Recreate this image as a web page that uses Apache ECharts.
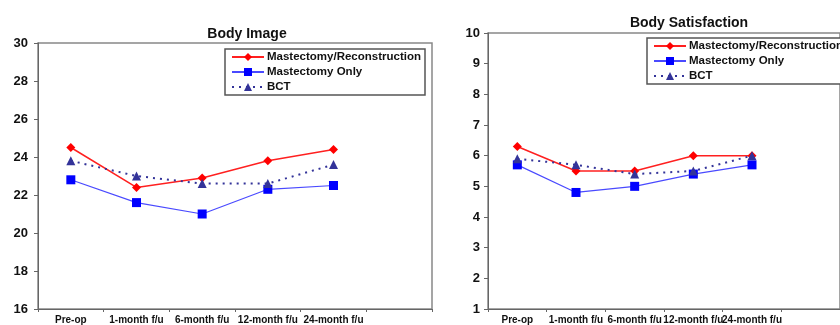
<!DOCTYPE html>
<html><head><meta charset="utf-8">
<script src="https://cdn.jsdelivr.net/npm/echarts@6/dist/echarts.min.js"></script>
<style>html,body{margin:0;padding:0;background:#fff}#c{width:840px;height:325px}</style>
</head><body><div id="c"></div>
<script>
const categories = ['Pre-op', '1-month f/u', '6-month f/u', '12-month f/u', '24-month f/u', ''];
const seriesNames = ['Mastectomy/Reconstruction', 'Mastectomy Only', 'BCT'];
const imageRecon = [24.5, 22.4, 22.9, 23.8, 24.4];
const imageMastOnly = [22.8, 21.6, 21.0, 22.3, 22.5];
const imageBCT = [23.8, 23.0, 22.6, 22.6, 23.6];
const satRecon = [6.3, 5.5, 5.5, 6.0, 6.0];
const satMastOnly = [5.7, 4.8, 5.0, 5.4, 5.7];
const satBCT = [5.9, 5.7, 5.4, 5.5, 6.0];
const titles = ['Body Image', 'Body Satisfaction'];

const FONT = '"Liberation Sans", Arial, sans-serif';
const styles = [
  {color: '#ff0000', lineColor: '#ff2020', symbol: 'diamond', size: 9, width: 1.5, type: 'solid'},
  {color: '#0000ff', lineColor: '#4a4aff', symbol: 'rect', size: 9, width: 1.2, type: 'solid'},
  {color: '#333399', lineColor: '#333399', symbol: 'triangle', size: 9, width: 2, type: [2, 5]}
];
function mk(name, data, idx, s) {
  return {
    name: name, type: 'line', data: data, xAxisIndex: idx, yAxisIndex: idx,
    symbol: s.symbol, symbolSize: s.size,
    itemStyle: {color: s.color},
    lineStyle: {color: s.lineColor, width: s.width, type: s.type},
    emphasis: {disabled: true}, animation: false
  };
}
function xAx(idx) {
  return {type: 'category', gridIndex: idx, data: categories, boundaryGap: true,
    axisLine: {lineStyle: {color: '#666', width: 1}},
    axisTick: {show: true, length: 3, lineStyle: {color: '#666'}},
    axisLabel: {interval: 0, margin: 6, color: '#111', fontFamily: FONT, fontWeight: 'bold', fontSize: 10}};
}
function yAx(idx, min, max, interval, margin) {
  return {type: 'value', gridIndex: idx, min: min, max: max, interval: interval,
    axisLine: {show: true, lineStyle: {color: '#666', width: 1}},
    axisTick: {show: true, length: 4, lineStyle: {color: '#666'}},
    splitLine: {show: false},
    axisLabel: {margin: margin, color: '#111', fontFamily: FONT, fontWeight: 'bold', fontSize: 13}};
}
function lg(left, top, padRight) {
  return {
    data: seriesNames, orient: 'vertical', left: left, top: top,
    backgroundColor: '#fff', borderColor: '#555', borderWidth: 1.5, borderRadius: 0,
    padding: [2, padRight, 2, 6], itemGap: 3, itemWidth: 32, itemHeight: 10,
    selectedMode: false,
    textStyle: {fontFamily: FONT, fontWeight: 'bold', fontSize: 11.5, color: '#111', padding: [0, 0, 0, -2]}
  };
}
const chart = echarts.init(document.getElementById('c'), null, {renderer: 'canvas'});
chart.setOption({
  backgroundColor: '#fff',
  animation: false,
  title: [
    {text: titles[0], left: 242, top: 22, textAlign: 'center', textStyle: {fontFamily: FONT, fontWeight: 'bold', fontSize: 14, color: '#111'}},
    {text: titles[1], left: 684, top: 11, textAlign: 'center', textStyle: {fontFamily: FONT, fontWeight: 'bold', fontSize: 14, color: '#111'}}
  ],
  legend: [lg(225, 49, 4), lg(647, 38, 30)],
  grid: [
    {left: 38, top: 43, width: 394, height: 267, show: true, borderColor: '#888', borderWidth: 1.5, containLabel: false},
    {left: 488, top: 33, width: 366, height: 277, show: true, borderColor: '#888', borderWidth: 1.5, containLabel: false}
  ],
  xAxis: [xAx(0), xAx(1)],
  yAxis: [yAx(0, 16, 30, 2, 10), yAx(1, 1, 10, 1, 8)],
  series: [
    mk(seriesNames[0], imageRecon, 0, styles[0]),
    mk(seriesNames[1], imageMastOnly, 0, styles[1]),
    mk(seriesNames[2], imageBCT, 0, styles[2]),
    mk(seriesNames[0], satRecon, 1, styles[0]),
    mk(seriesNames[1], satMastOnly, 1, styles[1]),
    mk(seriesNames[2], satBCT, 1, styles[2])
  ]
});
</script></body></html>
